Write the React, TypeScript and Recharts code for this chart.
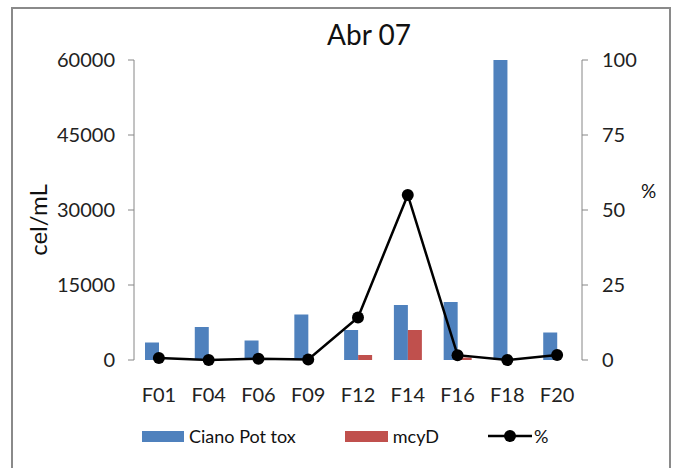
import React from "react";
import {
  ComposedChart,
  Bar,
  Line,
  XAxis,
  YAxis,
} from "recharts";

const sites = ["F01", "F04", "F06", "F09", "F12", "F14", "F16", "F18", "F20"];
const cianoPotTox = [3500, 6600, 3900, 9100, 6000, 11000, 11600, 60000, 5500];
const mcyD = [0, 0, 0, 0, 1000, 6000, 500, 0, 0];
const percent = [0.7, 0, 0.4, 0.2, 14.2, 55, 1.6, 0, 1.7];

const leftTicks = [0, 15000, 30000, 45000, 60000];
const rightTicks = [0, 25, 50, 75, 100];
const boundaryTicks = sites.map((_, i) => i).concat(sites.length);

const data = sites.map((site, i) => ({
  site,
  ciano: cianoPotTox[i],
  mcyd: mcyD[i],
  pct: percent[i],
}));

const FONT = "Lato, 'Open Sans', sans-serif";
const AXIS = "#868686";
const BLUE = "#4F81BD";
const RED = "#C0504D";

const tickStyle = { fontSize: 20, fill: "#222", fontFamily: FONT };

function LegendRow() {
  const text: React.CSSProperties = { fontSize: 18, color: "#111", marginLeft: 5 };
  return (
    <div
      style={{
        position: "absolute",
        top: 426,
        left: 142,
        display: "flex",
        alignItems: "center",
        fontFamily: FONT,
        height: 20,
      }}
    >
      <span style={{ width: 42, height: 11, background: BLUE, display: "inline-block" }} />
      <span style={text}>Ciano Pot tox</span>
      <span style={{ width: 43, height: 11, background: RED, display: "inline-block", marginLeft: 49 }} />
      <span style={text}>mcyD</span>
      <svg width={44} height={14} style={{ marginLeft: 49 }}>
        <line x1={0} y1={7} x2={44} y2={7} stroke="#000" strokeWidth={2.5} />
        <circle cx={22} cy={7} r={6} fill="#000" />
      </svg>
      <span style={{ ...text, marginLeft: 2 }}>%</span>
    </div>
  );
}

export default function App() {
  return (
    <div
      style={{
        position: "fixed",
        left: 0,
        top: 0,
        width: 680,
        height: 468,
        background: "#fff",
        overflow: "hidden",
      }}
    >
      <div
        style={{
          position: "absolute",
          left: 11,
          top: 7,
          width: 656,
          height: 480,
          border: "2px solid #8a8a8a",
        }}
      />
      <div
        style={{
          position: "absolute",
          top: 17,
          width: 738,
          textAlign: "center",
          fontFamily: FONT,
          fontSize: 28,
          color: "#111",
        }}
      >
        Abr 07
      </div>
      <div
        style={{
          position: "absolute",
          left: 37,
          top: 220,
          transform: "translate(-50%, -50%) rotate(-90deg)",
          fontFamily: FONT,
          fontSize: 24,
          color: "#111",
          whiteSpace: "nowrap",
        }}
      >
        cel/mL
      </div>
      <div
        style={{
          position: "absolute",
          left: 641,
          top: 179,
          fontFamily: FONT,
          fontSize: 19,
          color: "#111",
        }}
      >
        %
      </div>
      <div style={{ position: "absolute", left: 0, top: 0 }}>
        <ComposedChart
          width={680}
          height={468}
          data={data}
          margin={{ top: 60, right: 28, left: 44, bottom: 68 }}
          barSize={14}
          barGap={0}
        >
          <XAxis
            xAxisId="edges"
            type="number"
            domain={[0, sites.length]}
            ticks={boundaryTicks}
            tick={false}
            height={0}
            tickSize={7}
            stroke={AXIS}
            allowDataOverflow
          />
          <XAxis
            xAxisId="cat"
            dataKey="site"
            height={40}
            axisLine={false}
            tickLine={false}
            tickSize={0}
            tickMargin={28}
            tick={tickStyle}
          />
          <YAxis
            yAxisId="cells"
            domain={[0, 60000]}
            ticks={leftTicks}
            width={90}
            tickSize={6}
            tickMargin={13}
            stroke={AXIS}
            tick={tickStyle}
          />
          <YAxis
            yAxisId="pct"
            orientation="right"
            domain={[0, 100]}
            ticks={rightTicks}
            width={70}
            tickSize={6}
            tickMargin={14}
            stroke={AXIS}
            tick={tickStyle}
          />
          <Bar xAxisId="cat" yAxisId="cells" dataKey="ciano" fill={BLUE} isAnimationActive={false} />
          <Bar xAxisId="cat" yAxisId="cells" dataKey="mcyd" fill={RED} isAnimationActive={false} />
          <Line
            xAxisId="cat"
            yAxisId="pct"
            dataKey="pct"
            type="linear"
            stroke="#000"
            strokeWidth={2.5}
            dot={{ r: 6, fill: "#000", stroke: "#000", strokeWidth: 0 }}
            isAnimationActive={false}
          />
        </ComposedChart>
      </div>
      <LegendRow />
    </div>
  );
}
